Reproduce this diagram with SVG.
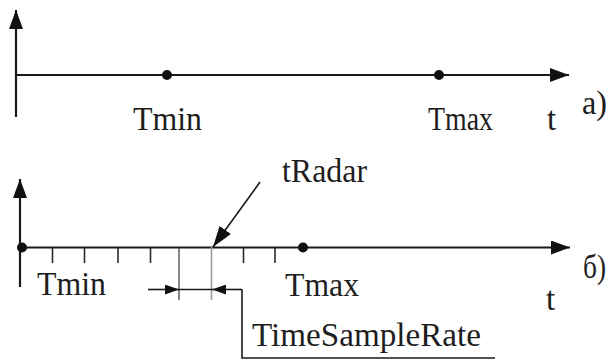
<svg xmlns="http://www.w3.org/2000/svg" width="611" height="362" viewBox="0 0 611 362">
<defs>
<style>
.ax{stroke:#1a1a1a;stroke-width:2.2;fill:none}
.tk{stroke:#2a2a2a;stroke-width:1.6;fill:none}
.thin{stroke:#333;stroke-width:1.2;fill:none}
.gr{stroke:#9a9a9a;stroke-width:1.6;fill:none}
.br{stroke:#1a1a1a;stroke-width:1.6;fill:none}
.pt{fill:#111}
.lb{font-family:"Liberation Serif","Times New Roman",serif;font-size:33px;fill:#1e1e1e}
</style>
<marker id="ah" markerUnits="userSpaceOnUse" markerWidth="19" markerHeight="14" refX="19" refY="7" orient="auto">
<path d="M0,0 L19,7 L0,14 Z" fill="#111"/>
</marker>
<marker id="ahr" markerUnits="userSpaceOnUse" markerWidth="21" markerHeight="14" refX="21" refY="7" orient="auto">
<path d="M0,0 L21,7 L0,14 Z" fill="#111"/>
</marker>
<marker id="ahs" markerUnits="userSpaceOnUse" markerWidth="14" markerHeight="10" refX="14" refY="5" orient="auto">
<path d="M0,0 L14,5 L0,10 Z" fill="#111"/>
</marker>
</defs>
<rect width="611" height="362" fill="#fff"/>

<g id="connectors">
<line class="ax" x1="16" y1="117" x2="16" y2="10" marker-end="url(#ah)"/>
<line class="ax" x1="16" y1="75" x2="569" y2="75" marker-end="url(#ah)"/>
<line class="ax" x1="20" y1="287" x2="20" y2="179" marker-end="url(#ah)"/>
<line class="ax" x1="20" y1="247.5" x2="570" y2="247.5" marker-end="url(#ah)"/>
<g id="ticks">
<line class="tk" x1="52.5" y1="247" x2="52.5" y2="263"/>
<line class="tk" x1="84.5" y1="247" x2="84.5" y2="263"/>
<line class="tk" x1="118" y1="247" x2="118" y2="263"/>
<line class="tk" x1="150.5" y1="247" x2="150.5" y2="263"/>
<line class="thin" x1="179" y1="247" x2="179" y2="300"/>
<line class="gr" x1="211.5" y1="247" x2="211.5" y2="300"/>
<line class="tk" x1="243.5" y1="247" x2="243.5" y2="263"/>
<line class="tk" x1="275" y1="247" x2="275" y2="263"/>
</g>
<line class="br" x1="260" y1="182" x2="213" y2="247" stroke="#2a2a44" marker-end="url(#ahr)"/>
<line class="br" x1="148" y1="289.5" x2="179" y2="289.5" marker-end="url(#ahs)"/>
<line class="br" x1="179" y1="289.5" x2="212" y2="289.5"/>
<line class="br" x1="242" y1="289.5" x2="212" y2="289.5" marker-end="url(#ahs)"/>
<path class="br" d="M242,289.5 V358 H495"/>
</g>

<g id="node-tmin-a">
<circle class="pt" cx="167" cy="75" r="5"/>
<text class="lb" x="133" y="130" textLength="69" lengthAdjust="spacingAndGlyphs">Tmin</text>
</g>
<g id="node-tmax-a">
<circle class="pt" cx="439" cy="75" r="5"/>
<text class="lb" x="428" y="130" textLength="65" lengthAdjust="spacingAndGlyphs">Tmax</text>
</g>
<g id="label-t-a">
<text class="lb" x="547" y="130">t</text>
</g>
<g id="label-a">
<text class="lb" x="582" y="114" textLength="25" lengthAdjust="spacingAndGlyphs">a)</text>
</g>

<g id="node-tmin-b">
<circle class="pt" cx="22" cy="247.5" r="5"/>
<text class="lb" x="37" y="295" textLength="69" lengthAdjust="spacingAndGlyphs">Tmin</text>
</g>
<g id="node-tmax-b">
<circle class="pt" cx="303" cy="247.5" r="5"/>
<text class="lb" x="285" y="296" textLength="74" lengthAdjust="spacingAndGlyphs">Tmax</text>
</g>
<g id="node-tradar">
<text class="lb" x="282" y="182" textLength="85" lengthAdjust="spacingAndGlyphs">tRadar</text>
</g>
<g id="label-t-b">
<text class="lb" x="546" y="310">t</text>
</g>
<g id="label-b">
<text class="lb" x="583" y="278" textLength="23" lengthAdjust="spacingAndGlyphs">б)</text>
</g>
<g id="node-timesamplerate">
<text class="lb" x="252" y="346" textLength="229" lengthAdjust="spacingAndGlyphs">TimeSampleRate</text>
</g>
</svg>
